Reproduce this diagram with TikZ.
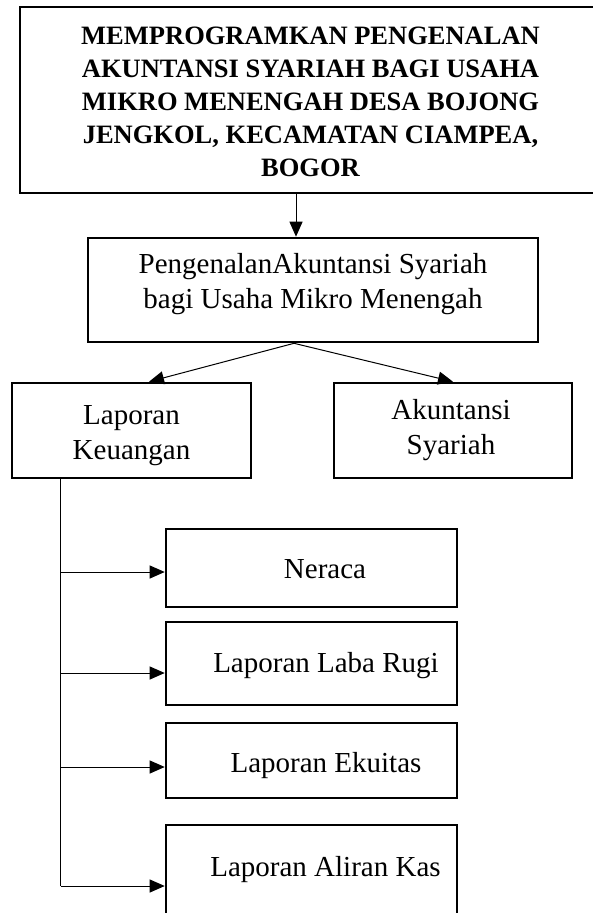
\documentclass[tikz,border=0pt]{standalone}
\usepackage{fontspec}
\setmainfont{Liberation Serif}
\usetikzlibrary{arrows.meta,fit,calc}
\begin{document}
\begin{tikzpicture}[x=1pt,y=-1pt,
  box/.style={draw=black,line width=2.6pt,inner sep=0pt,fill=none},
  arr/.style={draw=black,line width=1pt,-{Triangle[length=15pt,width=13pt]}},
  ln/.style={draw=black,line width=1pt},
  bt/.style={inner sep=0pt,anchor=base,font=\fontsize{26.5}{33}\selectfont\bfseries},
  rt/.style={inner sep=0pt,anchor=base,font=\fontsize{29}{35}\selectfont}]
\useasboundingbox (0,0) rectangle (592,913);
\fill[white] (0,0) rectangle (592,913);
% boxes
\node[box,fit={(20,7) (600,193)}] (top) {};
\node[box,fit={(88,238) (538,342)}] (mid) {};
\node[box,fit={(12,383) (251,478)}] (lap) {};
\node[box,fit={(334,383) (572,478)}] (aku) {};
\node[box,fit={(166,529) (457,607)}] (ner) {};
\node[box,fit={(166,622) (457,705)}] (lr) {};
\node[box,fit={(166,723) (457,798)}] (eku) {};
\node[box,fit={(166,825) (457,947)}] (kas) {};
% texts
\node[bt] (t1) at (310.5,44) {MEMPROGRAMKAN PENGENALAN};
\node[bt] (t2) at (310.5,77) {AKUNTANSI SYARIAH BAGI USAHA};
\node[bt] (t3) at (310.5,110) {MIKRO MENENGAH DESA BOJONG};
\node[bt] (t4) at (310.5,143) {JENGKOL, KECAMATAN CIAMPEA,};
\node[bt] (t5) at (310.5,176) {BOGOR};
\node[rt] (m1) at (313,273) {PengenalanAkuntansi Syariah};
\node[rt] (m2) at (313,308) {bagi Usaha Mikro Menengah};
\node[rt] (l1) at (131.5,424) {Laporan};
\node[rt] (l2) at (131.5,459) {Keuangan};
\node[rt] (a1) at (451,419) {Akuntansi};
\node[rt] (a2) at (451,454) {Syariah};
\node[rt] (n1t) at (325,578) {Neraca};
\node[rt] (r1t) at (326,672) {Laporan Laba Rugi};
\node[rt] (e1t) at (326,772) {Laporan Ekuitas};
\node[rt] (k1t) at (325.5,876) {Laporan Aliran Kas};
% connectors
\draw[arr] ([xshift=-17pt]mid.north |- top.south) -- ([xshift=-17pt]mid.north);
\coordinate (ms) at ($(mid.south)+(-19,0)$);
\draw[arr] (ms) -- ([xshift=17.5pt]lap.north);
\draw[arr] (ms) -- (aku.north);
\coordinate (trunk) at ($(lap.south west)+(50,0)$);
\coordinate (n1) at ($(ner.west)+(0,4)$);
\coordinate (r1) at ($(lr.west)+(0,9.5)$);
\coordinate (e1) at ($(eku.west)+(0,6.5)$);
\coordinate (k1) at (kas.west);
\draw[ln] (trunk) -- (trunk |- k1);
\draw[arr] (trunk |- n1) -- (n1);
\draw[arr] (trunk |- r1) -- (r1);
\draw[arr] (trunk |- e1) -- (e1);
\draw[arr] (trunk |- k1) -- (k1);
\end{tikzpicture}
\end{document}
